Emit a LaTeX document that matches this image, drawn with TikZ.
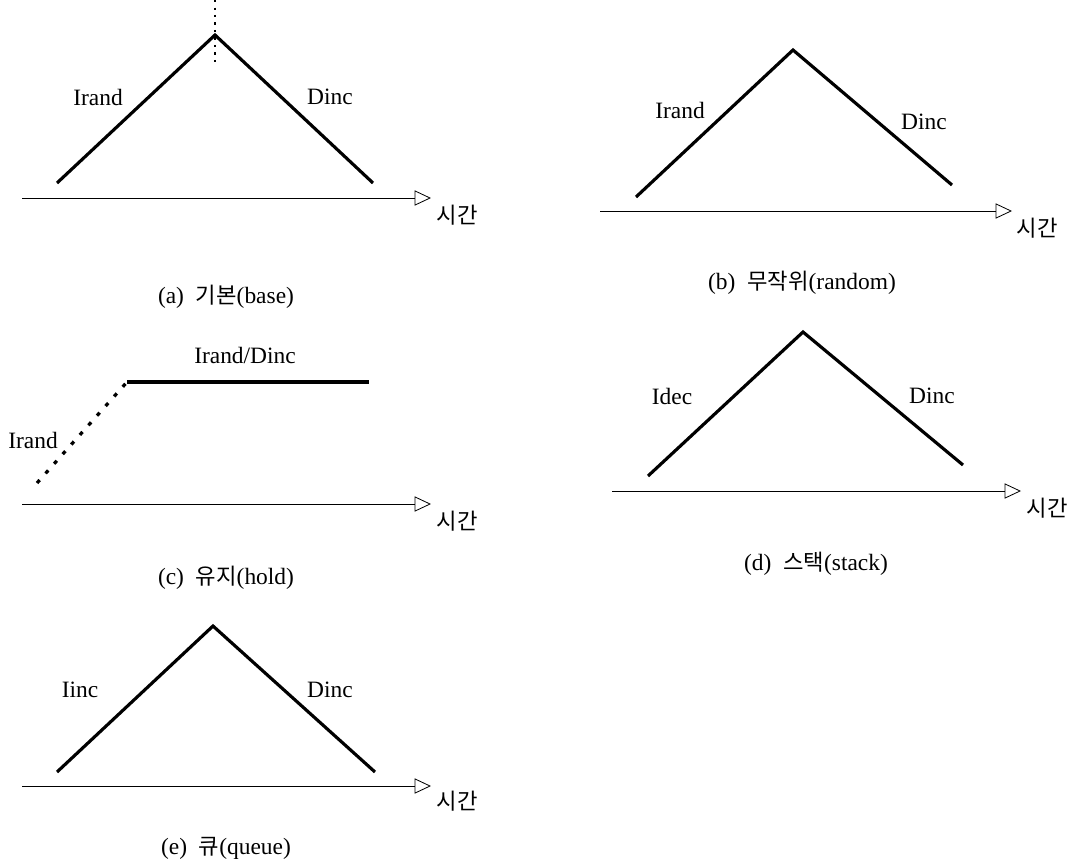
\documentclass[tikz,border=0pt]{standalone}
\usepackage{fontspec}
\setmainfont{Liberation Serif}
\newfontfamily\kr[Scale=0.95]{Noto Sans CJK KR}
\usetikzlibrary{arrows.meta}

\begin{document}
\begin{tikzpicture}[x=0.03cm,y=-0.03cm,
  tent/.style={line width=2.7pt},
  taxis/.style={line width=0.7pt,-{Triangle[open,length=14pt,width=13pt]}},
  fine/.style={line width=1.8pt,dash pattern=on 1.8pt off 4.6pt},
  coarse/.style={line width=2.8pt,dash pattern=on 3.4pt off 7.6pt},
  lbl/.style={font=\fontsize{20}{24}\selectfont,inner sep=0pt}]
\useasboundingbox (0,0) rectangle (1071,862);
% (a) base
\coordinate (al) at (57,183); \coordinate (ap) at (215,35); \coordinate (ar) at (373,183);
\coordinate (at) at (215,0); \coordinate (ab) at (215,62);
\coordinate (a0) at (22,198); \coordinate (a1) at (431,198);
\draw[tent] (al) -- (ap) -- (ar);
\draw[fine] (at) -- (ab);
\draw[taxis] (a0) -- (a1);
\node[lbl] (ai) at (98,97) {Irand};
\node[lbl] (ad) at (330,97) {Dinc};
\node[lbl] (atime) at (457,215) {\kr 시간};
\node[lbl] (acap) at (226,297) {(a)\ \ {\kr 기본}(base)};
% (b) random
\coordinate (bl) at (636,197); \coordinate (bp) at (793,50); \coordinate (br) at (952,185);
\coordinate (b0) at (600,211); \coordinate (b1) at (1012,211);
\draw[tent] (bl) -- (bp) -- (br);
\draw[taxis] (b0) -- (b1);
\node[lbl] (bi) at (680,110) {Irand};
\node[lbl] (bd) at (924,122) {Dinc};
\node[lbl] (btime) at (1037,228) {\kr 시간};
\node[lbl] (bcap) at (802,283) {(b)\ \ {\kr 무작위}(random)};
% (c) hold
\coordinate (cl) at (37,483); \coordinate (ck) at (127,382); \coordinate (cr) at (369,382);
\coordinate (c0) at (22,504); \coordinate (c1) at (431,504);
\draw[coarse] (cl) -- (ck);
\draw[tent] (ck) -- (cr);
\draw[taxis] (c0) -- (c1);
\node[lbl] (ci) at (33,440) {Irand};
\node[lbl] (cd) at (245,355) {Irand/Dinc};
\node[lbl] (ctime) at (457,521) {\kr 시간};
\node[lbl] (ccap) at (226,578) {(c)\ \ {\kr 유지}(hold)};
% (d) stack
\coordinate (dl) at (648,476); \coordinate (dp) at (803,332); \coordinate (dr) at (963,465);
\coordinate (d0) at (612,491); \coordinate (d1) at (1021,491);
\draw[tent] (dl) -- (dp) -- (dr);
\draw[taxis] (d0) -- (d1);
\node[lbl] (di) at (672,396) {Idec};
\node[lbl] (dd) at (932,396) {Dinc};
\node[lbl] (dtime) at (1047,508) {\kr 시간};
\node[lbl] (dcap) at (816,564) {(d)\ \ {\kr 스택}(stack)};
% (e) queue
\coordinate (el) at (57,772); \coordinate (ep) at (213,626); \coordinate (er) at (375,772);
\coordinate (e0) at (22,786); \coordinate (e1) at (431,786);
\draw[tent] (el) -- (ep) -- (er);
\draw[taxis] (e0) -- (e1);
\node[lbl] (ei) at (80,690) {Iinc};
\node[lbl] (ed) at (330,690) {Dinc};
\node[lbl] (etime) at (457,801) {\kr 시간};
\node[lbl] (ecap) at (226,848) {(e)\ \ {\kr 큐}(queue)};
\end{tikzpicture}
\end{document}
